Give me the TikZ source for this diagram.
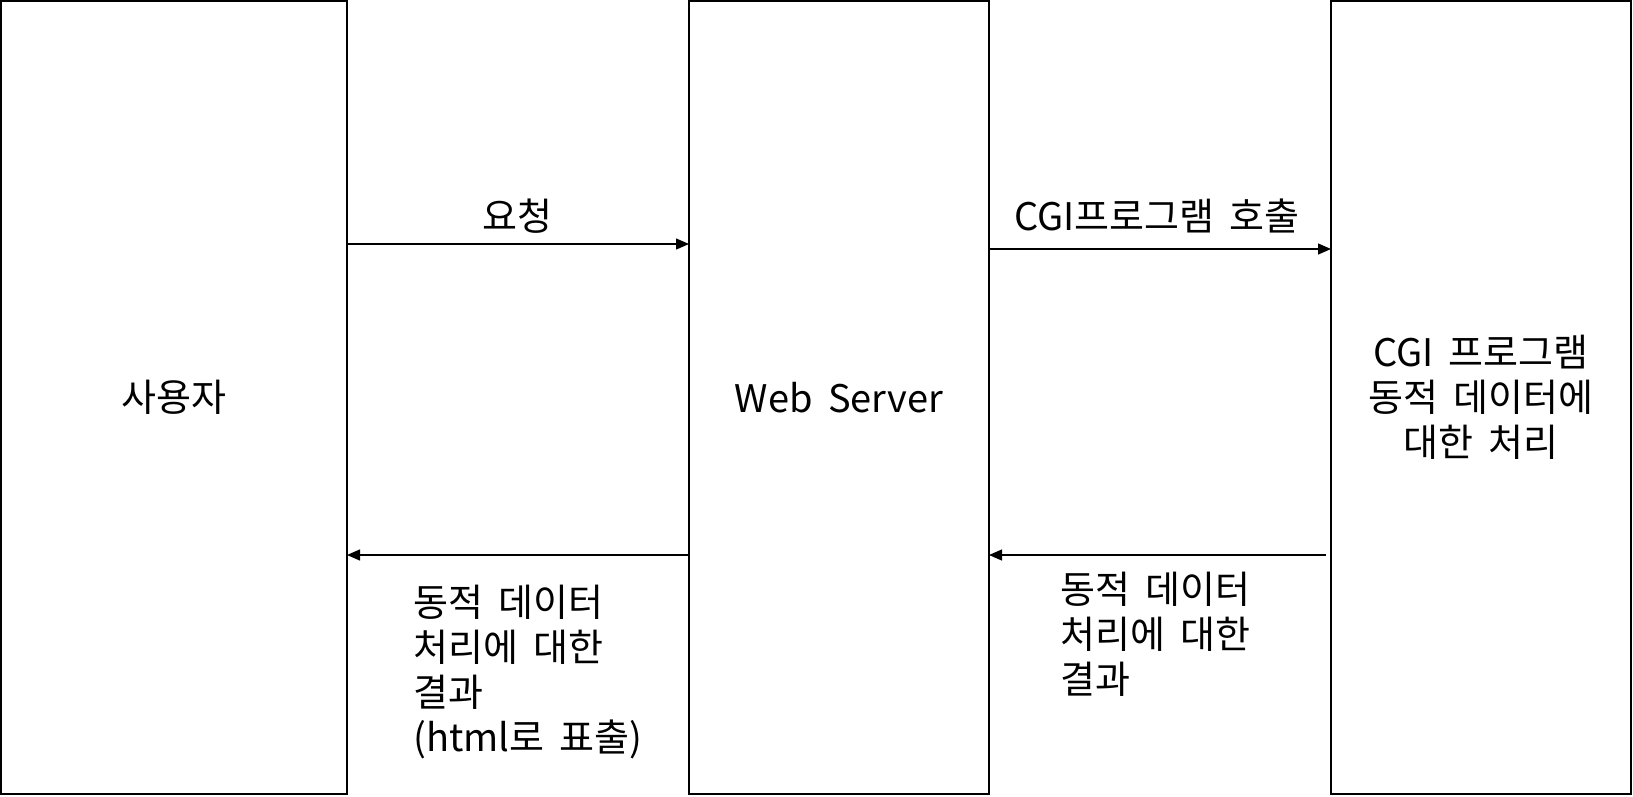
\documentclass[tikz,border=0pt]{standalone}
\usepackage{fontspec}
\setmainfont[WordSpace=1.8]{Noto Sans CJK KR}
\usetikzlibrary{arrows.meta}
\begin{document}
\begin{tikzpicture}[x=1pt,y=-1pt,
  box/.style={draw,line width=2pt,inner sep=0pt,outer sep=0pt,minimum width=#1,minimum height=793pt,
              font=\fontsize{38}{45}\selectfont,align=center},
  lbl/.style={font=\fontsize{38}{45}\selectfont,inner sep=0pt},
  arr/.style={line width=1.3pt,-{Triangle[length=13pt,width=11pt]}}]
\useasboundingbox (0,0) rectangle (1633,796);
\node[box=346pt] (user) at (174,397.5) {사용자};
\node[box=300pt] (web) at (839,397.5) {Web Server};
\node[box=300pt] (cgi) at (1481,397.5) {CGI 프로그램\\동적 데이터에\\대한 처리};
\draw[arr] (user.east |- 0,244) -- (web.west |- 0,244);
\draw[arr] (web.east |- 0,249) -- (cgi.west |- 0,249);
\draw[arr] (web.west |- 0,555) -- (user.east |- 0,555);
\draw[arr] ([xshift=-5pt]cgi.west |- 0,555) -- (web.east |- 0,555);
\node[lbl] (req) at (517,216) {요청};
\node[lbl] (call) at (1157,216) {CGI프로그램 호출};
\node[lbl,anchor=north west,align=left] (res1) at (413,585) {동적 데이터\\처리에 대한\\결과\\(html로 표출)};
\node[lbl,anchor=north west,align=left] (res2) at (1060,572) {동적 데이터\\처리에 대한\\결과};
\end{tikzpicture}
\end{document}
